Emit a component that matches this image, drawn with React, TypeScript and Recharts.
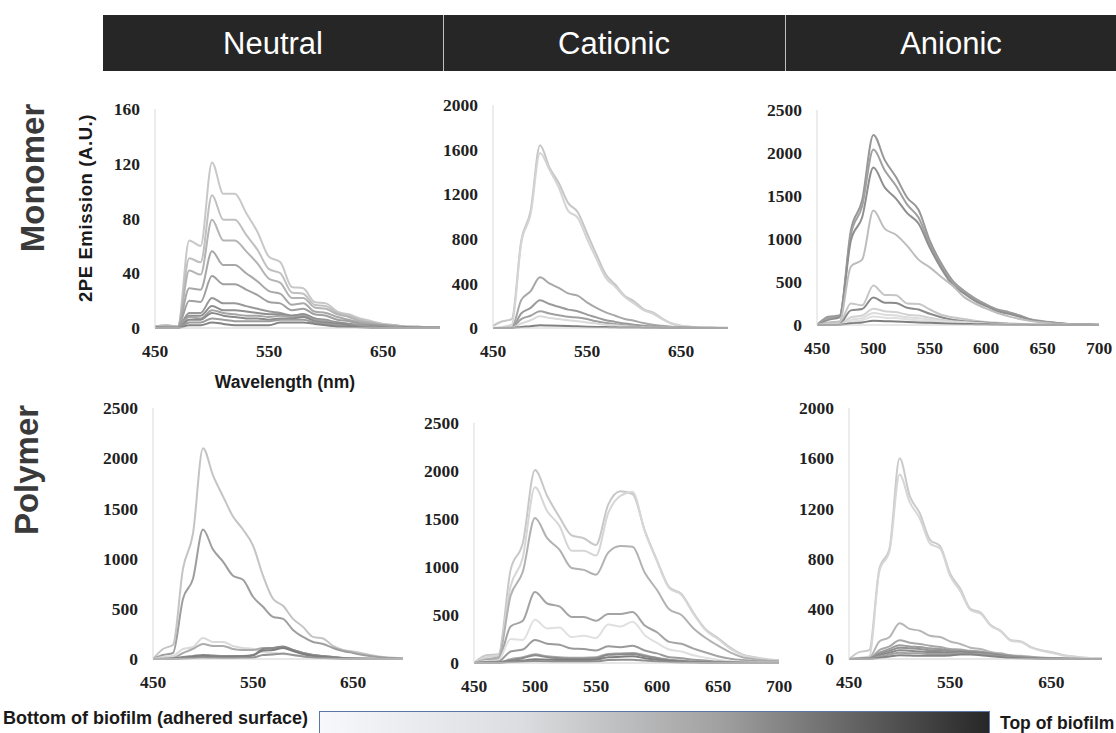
import React from 'react';
import { LineChart, Line, XAxis, YAxis } from 'recharts';

// shared wavelength grid (nm)
const wavelengths = [450, 460, 470, 480, 490, 500, 510, 520, 530, 540, 550, 560, 570, 580, 590, 600, 610, 620, 630, 640, 650, 660, 670, 680, 690, 700];

// Monomer / Neutral
const neutralMonomer = [
  [1, 2, 1, 64, 60, 121, 98, 98, 84, 70, 52, 48, 30, 29, 19, 18, 12, 10, 7, 5, 3, 2, 1, 1, 0.5, 0.5],
  [1, 2, 1, 51, 48, 97, 79, 79, 68, 57, 43, 40, 26, 25, 17, 16, 11, 9, 6, 4, 3, 2, 1, 1, 0.5, 0.5],
  [1, 1, 1, 42, 39, 79, 64, 64, 56, 47, 36, 33, 22, 22, 15, 14, 10, 8, 5, 4, 2, 2, 1, 1, 0.5, 0.5],
  [1, 1, 1, 29, 28, 56, 46, 46, 40, 34, 27, 25, 17, 18, 12, 11, 8, 6, 4, 3, 2, 1, 1, 0.5, 0.5, 0.5],
  [0.5, 1, 0.5, 20, 19, 38, 32, 32, 28, 24, 19, 18, 13, 14, 10, 9, 6, 5, 3, 2, 2, 1, 0.5, 0.5, 0.5, 0.5],
  [0.5, 0.5, 0.5, 11, 11, 22, 18, 18, 16, 14, 12, 11, 9, 10, 7, 6, 4, 3, 2, 2, 1, 1, 0.5, 0.5, 0, 0],
  [0.5, 0.5, 0.5, 9, 9, 16, 13, 13, 12, 11, 10, 10, 9, 10, 7, 5, 4, 3, 2, 1, 1, 0.5, 0.5, 0, 0, 0],
  [0, 0.5, 0.5, 8, 7, 13, 11, 10, 9, 9, 8, 9, 8, 9, 6, 5, 3, 2, 2, 1, 1, 0.5, 0, 0, 0, 0],
  [0, 0, 0, 6, 6, 11, 9, 8, 7, 7, 6, 7, 7, 8, 5, 4, 3, 2, 1, 1, 0.5, 0, 0, 0, 0, 0],
  [0, 0, 0, 4, 4, 7, 6, 5, 5, 5, 5, 6, 6, 6, 4, 3, 2, 1, 1, 0.5, 0, 0, 0, 0, 0, 0],
  [0, 0, 0, 2, 2, 4, 3, 2, 2, 2, 2, 4, 4, 4, 3, 2, 1, 1, 0.5, 0, 0, 0, 0, 0, 0, 0],
];

// Monomer / Cationic
const cationicMonomer = [
  [20, 60, 80, 780, 1050, 1640, 1440, 1300, 1120, 1040, 850, 660, 480, 390, 290, 240, 170, 140, 85, 40, 20, 12, 8, 5, 3, 2],
  [0, 10, 30, 760, 1020, 1570, 1420, 1260, 1050, 990, 800, 620, 450, 370, 280, 220, 160, 130, 80, 40, 20, 10, 6, 4, 2, 1],
  [0, 0, 5, 250, 330, 455, 400, 360, 310, 290, 230, 180, 140, 110, 80, 65, 45, 30, 20, 12, 8, 5, 3, 2, 1, 1],
  [0, 0, 3, 130, 180, 250, 215, 190, 165, 150, 120, 95, 70, 55, 40, 30, 20, 15, 10, 5, 3, 2, 1, 1, 0, 0],
  [0, 0, 2, 80, 110, 150, 130, 115, 100, 95, 80, 60, 45, 35, 25, 18, 12, 8, 5, 3, 2, 1, 1, 0, 0, 0],
  [0, 0, 2, 40, 70, 105, 90, 80, 70, 60, 50, 40, 30, 25, 18, 12, 8, 5, 3, 2, 1, 1, 0, 0, 0, 0],
  [0, 0, 1, 10, 15, 25, 22, 20, 18, 15, 12, 10, 8, 6, 5, 4, 3, 2, 1, 1, 0, 0, 0, 0, 0, 0],
];

// Monomer / Anionic
const anionicMonomer = [
  [0, 95, 110, 1100, 1450, 2210, 1920, 1720, 1480, 1340, 980, 720, 520, 400, 310, 240, 180, 150, 110, 65, 45, 30, 15, 10, 6, 4],
  [0, 80, 100, 1050, 1380, 2040, 1800, 1620, 1400, 1250, 940, 690, 500, 390, 300, 230, 170, 140, 100, 60, 40, 25, 15, 10, 6, 4],
  [0, 60, 90, 980, 1250, 1830, 1600, 1470, 1300, 1180, 900, 660, 470, 370, 280, 220, 160, 130, 95, 55, 35, 22, 12, 8, 5, 3],
  [0, 30, 40, 680, 760, 1330, 1120, 1050, 920, 760, 670, 560, 460, 330, 250, 190, 140, 100, 70, 45, 30, 18, 10, 6, 4, 2],
  [0, 10, 20, 250, 230, 460, 350, 345, 250, 245, 180, 120, 90, 70, 50, 35, 25, 18, 12, 8, 5, 3, 2, 1, 1, 0],
  [0, 5, 10, 170, 185, 320, 260, 255, 200, 180, 130, 90, 60, 45, 35, 25, 18, 12, 8, 5, 3, 2, 1, 1, 0, 0],
  [0, 5, 8, 90, 110, 190, 160, 150, 120, 110, 85, 60, 45, 35, 25, 18, 12, 8, 5, 3, 2, 1, 1, 0, 0, 0],
  [0, 3, 5, 60, 80, 140, 120, 110, 90, 80, 60, 45, 35, 25, 18, 12, 8, 5, 3, 2, 1, 1, 0, 0, 0, 0],
  [0, 2, 3, 40, 55, 100, 85, 80, 65, 55, 45, 35, 25, 18, 12, 8, 5, 3, 2, 1, 1, 0, 0, 0, 0, 0],
  [0, 0, 2, 20, 30, 50, 45, 40, 35, 30, 25, 20, 15, 12, 10, 8, 5, 3, 2, 1, 1, 0, 0, 0, 0, 0],
];

// Polymer / Neutral
const neutralPolymer = [
  [0, 100, 140, 900, 1250, 2100, 1830, 1620, 1420, 1290, 1130, 830, 600, 530, 400, 320, 220, 205, 130, 90, 75, 55, 35, 20, 12, 8],
  [0, 40, 60, 600, 800, 1290, 1090, 970, 830, 790, 620, 520, 420, 400, 290, 220, 170, 150, 110, 80, 60, 40, 25, 15, 10, 6],
  [0, 20, 30, 100, 120, 210, 170, 170, 130, 110, 100, 70, 60, 50, 40, 30, 20, 15, 10, 6, 4, 3, 2, 1, 1, 0],
  [0, 5, 10, 60, 100, 150, 130, 130, 100, 90, 90, 110, 110, 115, 90, 60, 40, 30, 20, 10, 6, 4, 2, 1, 1, 0],
  [0, 0, 5, 20, 30, 40, 35, 30, 30, 30, 40, 100, 110, 125, 90, 60, 40, 30, 20, 10, 5, 3, 2, 1, 0, 0],
  [0, 0, 3, 10, 20, 30, 25, 20, 20, 25, 35, 85, 90, 110, 80, 50, 30, 20, 12, 6, 3, 2, 1, 0, 0, 0],
  [0, 0, 2, 5, 10, 15, 12, 10, 10, 12, 15, 40, 45, 55, 40, 25, 15, 10, 6, 3, 2, 1, 0, 0, 0, 0],
];

// Polymer / Cationic
const cationicPolymer = [
  [0, 80, 90, 970, 1250, 2010, 1740, 1520, 1330, 1300, 1230, 1650, 1790, 1760, 1380, 1070, 790, 720, 520, 350, 260, 160, 90, 60, 40, 30],
  [0, 60, 80, 800, 1100, 1830, 1580, 1430, 1170, 1170, 1120, 1560, 1740, 1780, 1370, 1060, 780, 710, 510, 340, 250, 150, 85, 55, 35, 25],
  [0, 40, 60, 700, 950, 1510, 1300, 1180, 990, 970, 920, 1150, 1220, 1210, 940, 760, 560, 500, 360, 260, 180, 110, 60, 40, 25, 20],
  [0, 30, 40, 380, 440, 740, 620, 590, 480, 480, 440, 510, 510, 530, 390, 320, 220, 200, 150, 110, 70, 45, 30, 20, 15, 10],
  [0, 20, 30, 250, 240, 450, 360, 370, 270, 285, 260, 400, 380, 430, 290, 210, 140, 120, 80, 55, 35, 20, 12, 8, 5, 4],
  [0, 10, 15, 120, 140, 240, 200, 190, 150, 145, 130, 175, 165, 180, 130, 100, 60, 50, 35, 25, 15, 10, 6, 4, 3, 2],
  [0, 1, 2, 40, 60, 90, 70, 60, 55, 55, 60, 95, 100, 105, 80, 55, 35, 25, 15, 10, 6, 4, 2, 1, 1, 0],
  [0, 5, 8, 30, 50, 80, 60, 50, 45, 45, 50, 85, 90, 95, 70, 50, 30, 20, 12, 8, 5, 3, 2, 1, 1, 0],
  [0, 3, 5, 15, 25, 40, 35, 30, 30, 30, 35, 60, 65, 70, 50, 35, 20, 12, 8, 5, 3, 2, 1, 1, 0, 0],
  [0, 2, 3, 10, 15, 20, 18, 15, 15, 15, 18, 30, 35, 35, 25, 18, 10, 6, 4, 2, 1, 1, 0, 0, 0, 0],
];

// Polymer / Anionic
const anionicPolymer = [
  [0, 55, 70, 720, 880, 1600, 1300, 1160, 950, 900, 680, 560, 400, 370, 270, 225, 150, 140, 95, 70, 55, 35, 22, 12, 8, 5],
  [0, 10, 20, 700, 860, 1470, 1250, 1120, 920, 880, 660, 540, 390, 360, 265, 220, 145, 135, 90, 65, 50, 30, 20, 12, 8, 5],
  [0, 5, 10, 140, 175, 285, 240, 225, 185, 175, 140, 120, 90, 80, 55, 45, 30, 25, 18, 12, 8, 5, 3, 2, 1, 1],
  [0, 3, 5, 70, 100, 150, 130, 120, 105, 95, 80, 75, 65, 60, 45, 35, 25, 18, 12, 8, 5, 3, 2, 1, 1, 0],
  [0, 2, 4, 50, 80, 110, 100, 95, 85, 80, 70, 65, 60, 55, 45, 35, 25, 18, 12, 8, 5, 3, 2, 1, 0, 0],
  [0, 1, 3, 40, 65, 90, 85, 80, 70, 70, 60, 60, 55, 50, 40, 30, 20, 14, 9, 6, 4, 2, 1, 1, 0, 0],
  [0, 1, 2, 30, 50, 70, 65, 60, 55, 55, 50, 55, 50, 45, 35, 25, 16, 10, 7, 4, 3, 2, 1, 0, 0, 0],
  [0, 0, 2, 20, 35, 50, 45, 45, 40, 40, 40, 45, 40, 40, 30, 20, 12, 8, 5, 3, 2, 1, 0, 0, 0, 0],
  [0, 0, 1, 10, 20, 30, 28, 25, 25, 25, 28, 35, 35, 30, 22, 15, 9, 6, 4, 2, 1, 1, 0, 0, 0, 0],
];

const ticksNarrow = [450, 550, 650];
const ticksWide = [450, 500, 550, 600, 650, 700];

const tickStyle = {
  fontFamily: '"Liberation Serif", "Times New Roman", serif',
  fontSize: 17.5,
  fontWeight: 700,
  fill: '#1f1f1f',
};

type Box = { x0: number; y0: number; x1: number; y1: number };

function Panel({ series, colors, box, yTicks, xTicks }: {
  series: number[][]; colors: string[]; box: Box; yTicks: number[]; xTicks: number[];
}) {
  const data = wavelengths.map((wl, i) => {
    const row: Record<string, number> = { wl };
    series.forEach((s, k) => { row['s' + k] = s[i]; });
    return row;
  });
  const yW = 70, mT = 10, mR = 20, xH = 40;
  const width = box.x1 - box.x0 + yW + mR;
  const height = box.y1 - box.y0 + mT + xH;

  return (
    <div style={{ position: 'absolute', left: box.x0 - yW, top: box.y0 - mT }}>
      <LineChart width={width} height={height} data={data} margin={{ top: mT, right: mR, bottom: 0, left: 0 }}>
        <XAxis
          dataKey="wl" type="number" domain={[450, 700]} ticks={xTicks} interval={0}
          height={xH} tickLine={false} tickSize={0} tickMargin={17}
          axisLine={{ stroke: '#cfcfcf' }} tick={tickStyle} allowDataOverflow
        />
        <YAxis
          type="number" domain={[0, yTicks[yTicks.length - 1]]} ticks={yTicks} interval={0}
          width={yW} tickLine={false} tickSize={0} tickMargin={15}
          axisLine={{ stroke: '#d9d9d9' }} tick={tickStyle}
        />
        {series.map((_, k) => (
          <Line key={k} dataKey={'s' + k} stroke={colors[k]} strokeWidth={2} dot={false}
            type="monotone" isAnimationActive={false} />
        ))}
      </LineChart>
    </div>
  );
}

const sans = '"Liberation Sans", Arial, sans-serif';

export default function App() {
  return (
    <div style={{ position: 'relative', width: 1116, height: 733, overflow: 'hidden', background: '#fff' }}>
      <style>{'body{margin:0}'}</style>

      <svg width={1116} height={733} style={{ position: 'absolute', left: 0, top: 0 }}>
        <defs>
          <linearGradient id="biofilm" x1="0" x2="1" y1="0" y2="0">
            <stop offset="0" stopColor="#f7f8fb" />
            <stop offset="0.3" stopColor="#dcdde0" />
            <stop offset="0.6" stopColor="#a0a0a0" />
            <stop offset="1" stopColor="#262626" />
          </linearGradient>
        </defs>

        {/* column headers */}
        <rect x={103} y={15} width={1013} height={56} fill="#262626" />
        <line x1={443.5} y1={15} x2={443.5} y2={71} stroke="#bfbfbf" />
        <line x1={785.5} y1={15} x2={785.5} y2={71} stroke="#bfbfbf" />
        <text x={273} y={54} textAnchor="middle" fill="#fff" fontFamily={sans} fontSize={31}>Neutral</text>
        <text x={614} y={54} textAnchor="middle" fill="#fff" fontFamily={sans} fontSize={31}>Cationic</text>
        <text x={951} y={54} textAnchor="middle" fill="#fff" fontFamily={sans} fontSize={31}>Anionic</text>

        {/* row labels */}
        <text transform="translate(44,178) rotate(-90)" textAnchor="middle" fontFamily={sans} fontWeight={700} fontSize={33} fill="#3a3a3a">Monomer</text>
        <text transform="translate(38,470) rotate(-90)" textAnchor="middle" fontFamily={sans} fontWeight={700} fontSize={33} fill="#3a3a3a">Polymer</text>

        {/* axis titles */}
        <text transform="translate(92,208) rotate(-90)" textAnchor="middle" fontFamily={sans} fontWeight={700} fontSize={18.5} letterSpacing={0.6} fill="#1a1a1a">2PE Emission (A.U.)</text>
        <text x={285} y={388} textAnchor="middle" fontFamily={sans} fontWeight={700} fontSize={17.5} fill="#1a1a1a">Wavelength (nm)</text>

        {/* depth legend */}
        <text x={3} y={724} fontFamily={sans} fontWeight={700} fontSize={18} fill="#1a1a1a">Bottom of biofilm (adhered surface)</text>
        <rect x={319.5} y={711.5} width={670} height={30} fill="url(#biofilm)" stroke="#5b77a8" strokeWidth={1} />
        <text x={1000} y={729} fontFamily={sans} fontWeight={700} fontSize={17.5} fill="#1a1a1a">Top of biofilm</text>
      </svg>

      <Panel series={neutralMonomer} box={{ x0: 155, y0: 109, x1: 440, y1: 328 }}
        yTicks={[0, 40, 80, 120, 160]} xTicks={ticksNarrow}
        colors={['#c8c8c8', '#c0c0c0', '#b4b4b4', '#a8a8a8', '#a0a0a0', '#989898', '#8e8e8e', '#a4a4a4', '#8a8a8a', '#9c9c9c', '#848484']} />
      <Panel series={cationicMonomer} box={{ x0: 493, y0: 105, x1: 728, y1: 328 }}
        yTicks={[0, 400, 800, 1200, 1600, 2000]} xTicks={ticksNarrow}
        colors={['#c6c6c6', '#d4d4d4', '#a8a8a8', '#9a9a9a', '#a0a0a0', '#dadada', '#808080']} />
      <Panel series={anionicMonomer} box={{ x0: 817, y0: 110, x1: 1099, y1: 325 }}
        yTicks={[0, 500, 1000, 1500, 2000, 2500]} xTicks={ticksWide}
        colors={['#979797', '#a0a0a0', '#8f8f8f', '#bdbdbd', '#c6c6c6', '#8a8a8a', '#d2d2d2', '#dcdcdc', '#e0e0e0', '#7e7e7e']} />
      <Panel series={neutralPolymer} box={{ x0: 153, y0: 408, x1: 403, y1: 659 }}
        yTicks={[0, 500, 1000, 1500, 2000, 2500]} xTicks={ticksNarrow}
        colors={['#c4c4c4', '#9e9e9e', '#dadada', '#acacac', '#8a8a8a', '#7e7e7e', '#959595']} />
      <Panel series={cationicPolymer} box={{ x0: 474, y0: 423, x1: 779, y1: 663 }}
        yTicks={[0, 500, 1000, 1500, 2000, 2500]} xTicks={ticksWide}
        colors={['#c8c8c8', '#d6d6d6', '#b2b2b2', '#a4a4a4', '#e0e0e0', '#9a9a9a', '#a8a8a8', '#8a8a8a', '#7e7e7e', '#909090']} />
      <Panel series={anionicPolymer} box={{ x0: 849, y0: 408, x1: 1102, y1: 659 }}
        yTicks={[0, 400, 800, 1200, 1600, 2000]} xTicks={ticksNarrow}
        colors={['#cacaca', '#d6d6d6', '#b6b6b6', '#a8a8a8', '#9c9c9c', '#929292', '#8a8a8a', '#a0a0a0', '#848484']} />
    </div>
  );
}
